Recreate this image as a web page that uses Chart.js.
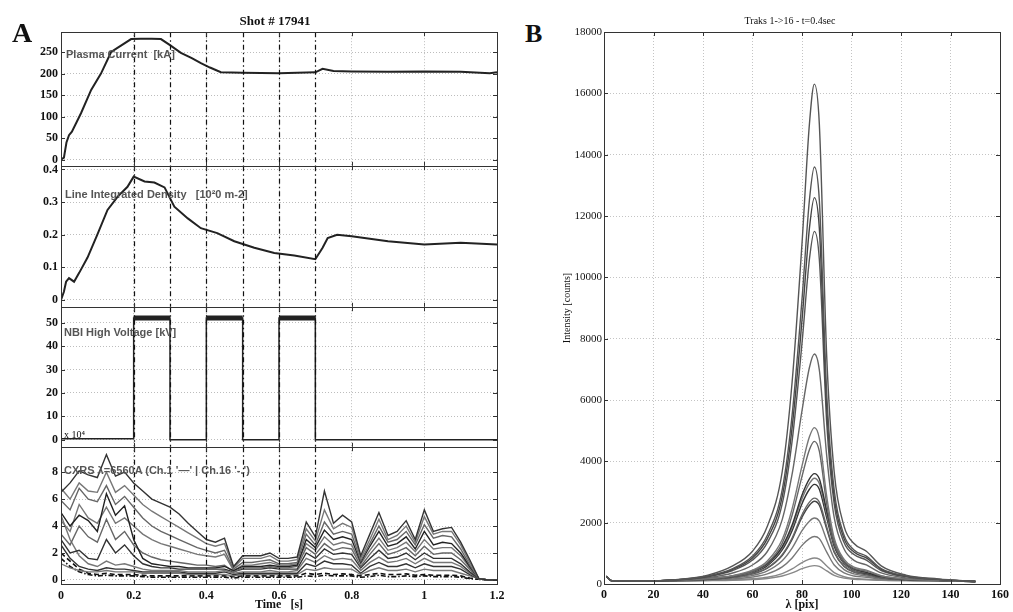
<!DOCTYPE html>
<html>
<head>
<meta charset="utf-8">
<script src="https://cdn.jsdelivr.net/npm/chart.js@4.4.0/dist/chart.umd.min.js"></script>
<style>
body { margin: 0; background: #fff; width: 1013px; height: 612px; overflow: hidden; position: relative; font-family: "Liberation Serif", serif; }
canvas { position: absolute; }
.txt { position: absolute; white-space: pre; line-height: 1; color: #111; }
.note { position: absolute; white-space: pre; line-height: 1; font: bold 11px "Liberation Sans", Arial, sans-serif; color: #555; }
</style>
</head>
<body>
<canvas id="c1" width="515" height="154" style="left:0;top:22px"></canvas>
<canvas id="c2" width="515" height="161" style="left:0;top:156px"></canvas>
<canvas id="c3" width="515" height="160" style="left:0;top:297px"></canvas>
<canvas id="c4" width="515" height="175" style="left:0;top:437px"></canvas>
<canvas id="cB" width="458" height="612" style="left:555px;top:0"></canvas>

<div class="txt" style="left:12px;top:19px;font-weight:bold;font-size:28px">A</div>
<div class="txt" style="left:525px;top:21px;font-weight:bold;font-size:26px">B</div>
<div class="txt" style="left:275px;top:14px;font-weight:bold;font-size:13px;transform:translateX(-50%)">Shot # 17941</div>
<div class="txt" style="left:790px;top:16px;font-size:10px;transform:translateX(-50%)">Traks 1-&gt;16 - t=0.4sec</div>
<div class="note" style="left:66px;top:48px">Plasma Current  [kA]</div>
<div class="note" style="left:65px;top:188px">Line Integrated Density   [10²0 m-2]</div>
<div class="note" style="left:64px;top:326px">NBI High Voltage [kV]</div>
<div class="note" style="left:64px;top:464px">CXRS λ=6560A (Ch.1 '—' | Ch.16 '-.')</div>
<div class="txt" style="left:64px;top:430px;font-size:10px">x 10⁴</div>

<script>
Chart.defaults.font.family = '"Liberation Serif", serif';
Chart.defaults.color = '#111';

// time axis shared by the four left panels
const timeTicks = [0, 0.2, 0.4, 0.6, 0.8, 1, 1.2];
const nbiMarks = [0.2, 0.3, 0.4, 0.5, 0.6, 0.7];

// Plasma current [kA]
const ipTime = [0, 0.008, 0.015, 0.022, 0.03, 0.055, 0.083, 0.11, 0.138, 0.165, 0.193, 0.22, 0.25, 0.275, 0.3, 0.33, 0.36, 0.385, 0.41, 0.44, 0.5, 0.6, 0.7, 0.72, 0.75, 0.8, 0.9, 1.0, 1.1, 1.18, 1.2];
const ipValues = [0, 5, 40, 57, 65, 108, 162, 200, 250, 265, 280, 281, 281, 280, 266, 248, 236, 224, 214, 203, 202, 201, 203, 211, 206, 205, 204, 205, 204, 201, 203];
const ipTicks = [0, 50, 100, 150, 200, 250];

// Line integrated density [1e20 m-2]
const neTime = [0, 0.008, 0.014, 0.022, 0.036, 0.05, 0.073, 0.1, 0.128, 0.156, 0.183, 0.2, 0.23, 0.257, 0.285, 0.312, 0.349, 0.385, 0.43, 0.477, 0.532, 0.587, 0.642, 0.7, 0.72, 0.734, 0.76, 0.8, 0.9, 1.0, 1.1, 1.2];
const neValues = [0, 0.025, 0.056, 0.067, 0.056, 0.083, 0.13, 0.2, 0.276, 0.317, 0.347, 0.378, 0.363, 0.36, 0.345, 0.286, 0.25, 0.22, 0.205, 0.18, 0.16, 0.144, 0.136, 0.125, 0.16, 0.19, 0.2, 0.195, 0.18, 0.17, 0.175, 0.17];
const neTicks = [0, 0.1, 0.2, 0.3, 0.4];

// NBI high voltage [kV]
const nbiTime = [0, 0.2, 0.2, 0.3, 0.3, 0.4, 0.4, 0.5, 0.5, 0.6, 0.6, 0.7, 0.7, 1.2];
const nbiValues = [0.4, 0.4, 52, 52, 0, 0, 52, 52, 0, 0, 52, 52, 0, 0];
const nbiOnStart = [0.2, 0.4, 0.6];
const nbiOnEnd = [0.3, 0.5, 0.7];
const nbiOnLevel = 52;
const nbiTicks = [0, 10, 20, 30, 40, 50];

// CXRS channels (x 1e4 counts)
const cxrsTime = [0, 0.025, 0.05, 0.075, 0.1, 0.125, 0.15, 0.175, 0.2, 0.225, 0.25, 0.275, 0.3, 0.325, 0.35, 0.375, 0.4, 0.425, 0.45, 0.475, 0.5, 0.525, 0.55, 0.575, 0.6, 0.625, 0.65, 0.675, 0.7, 0.725, 0.75, 0.775, 0.8, 0.825, 0.85, 0.875, 0.9, 0.925, 0.95, 0.975, 1, 1.025, 1.05, 1.075, 1.1, 1.125, 1.15, 1.175, 1.2];
const cxrs1 = [6.5, 7.2, 8.1, 7.8, 7.6, 9.3, 7.7, 8.0, 7.2, 6.6, 6.0, 5.7, 5.4, 4.9, 4.2, 3.6, 3.0, 2.8, 3.1, 1.0, 1.8, 1.8, 1.8, 2.0, 1.6, 1.6, 1.7, 4.3, 3.2, 6.6, 4.2, 4.8, 4.3, 1.8, 3.4, 5.0, 3.3, 3.6, 4.4, 3.0, 5.2, 3.6, 3.8, 3.9, 2.8, 1.5, 0.1, 0, 0];
const cxrs2 = [6.8, 6.0, 7.2, 6.6, 6.5, 8.0, 6.5, 7.0, 6.3, 5.6, 5.1, 4.7, 4.3, 3.9, 3.5, 3.1, 2.7, 2.5, 2.7, 0.9, 1.6, 1.6, 1.6, 1.8, 1.4, 1.4, 1.5, 3.8, 2.9, 5.2, 3.8, 4.2, 3.9, 1.6, 3.0, 4.5, 3.0, 3.3, 4.0, 2.8, 4.7, 3.4, 3.6, 3.6, 2.6, 1.3, 0.1, 0, 0];
const cxrs3 = [5.9, 5.2, 6.8, 6.0, 5.8, 7.0, 5.6, 6.2, 5.4, 4.6, 4.0, 3.6, 3.3, 3.0, 2.7, 2.4, 2.2, 2.0, 2.2, 0.8, 1.3, 1.3, 1.4, 1.5, 1.2, 1.2, 1.3, 3.4, 2.6, 4.3, 3.4, 3.6, 3.4, 1.4, 2.7, 4.0, 2.8, 3.0, 3.6, 2.6, 4.1, 3.1, 3.3, 3.2, 2.3, 1.1, 0.1, 0, 0];
const cxrs4 = [5.0, 4.0, 4.8, 4.4, 3.6, 6.4, 4.8, 5.5, 3.0, 1.6, 1.2, 1.1, 1.0, 1.0, 0.9, 0.9, 0.9, 0.9, 1.0, 0.7, 1.0, 1.0, 1.0, 1.1, 1.0, 1.0, 1.1, 3.0, 2.4, 3.7, 3.0, 3.2, 3.0, 1.3, 2.5, 3.6, 2.5, 2.7, 3.2, 2.3, 3.6, 2.6, 2.8, 2.7, 2.0, 1.0, 0.1, 0, 0];
const cxrs5 = [4.4, 3.6, 5.6, 4.6, 4.2, 5.4, 4.2, 4.6, 4.0, 3.4, 3.0, 2.7, 2.5, 2.3, 2.1, 1.9, 1.8, 1.7, 1.9, 0.7, 1.1, 1.1, 1.2, 1.3, 1.1, 1.1, 1.2, 2.7, 2.2, 3.2, 2.6, 2.8, 2.6, 1.2, 2.2, 3.1, 2.2, 2.4, 2.8, 2.1, 3.0, 2.3, 2.4, 2.4, 1.8, 0.9, 0.1, 0, 0];
const cxrs6 = [3.4, 2.6, 4.0, 3.2, 2.8, 4.5, 3.0, 3.6, 2.6, 2.0, 1.7, 1.5, 1.4, 1.3, 1.2, 1.1, 1.1, 1.0, 1.1, 0.6, 0.9, 0.9, 0.9, 1.0, 0.9, 0.9, 1.0, 2.4, 1.9, 2.7, 2.2, 2.4, 2.3, 1.0, 1.9, 2.7, 1.9, 2.1, 2.4, 1.8, 2.5, 1.9, 2.0, 2.0, 1.5, 0.8, 0.1, 0, 0];
const cxrs7 = [3.0, 2.0, 2.2, 1.6, 1.5, 3.0, 2.0, 2.6, 1.8, 1.2, 1.0, 0.9, 0.9, 0.8, 0.8, 0.8, 0.8, 0.8, 0.8, 0.6, 0.8, 0.8, 0.8, 0.9, 0.8, 0.8, 0.8, 2.0, 1.6, 2.3, 1.9, 2.0, 1.9, 0.9, 1.6, 2.2, 1.6, 1.7, 2.0, 1.5, 2.0, 1.6, 1.6, 1.6, 1.2, 0.6, 0.1, 0, 0];
const cxrs8 = [4.8, 3.0, 1.8, 1.2, 1.0, 1.4, 1.1, 1.2, 1.0, 0.8, 0.7, 0.7, 0.7, 0.7, 0.6, 0.6, 0.6, 0.6, 0.7, 0.5, 0.6, 0.6, 0.6, 0.7, 0.6, 0.6, 0.7, 1.6, 1.3, 1.8, 1.5, 1.6, 1.5, 0.7, 1.3, 1.7, 1.3, 1.4, 1.6, 1.2, 1.6, 1.3, 1.3, 1.3, 1.0, 0.5, 0.1, 0, 0];
const cxrs9 = [2.6, 1.6, 1.0, 0.8, 0.7, 0.9, 0.8, 0.8, 0.7, 0.6, 0.6, 0.6, 0.6, 0.6, 0.5, 0.5, 0.5, 0.5, 0.6, 0.4, 0.5, 0.5, 0.5, 0.5, 0.5, 0.5, 0.5, 1.2, 1.0, 1.4, 1.2, 1.2, 1.1, 0.5, 1.0, 1.3, 1.0, 1.0, 1.2, 0.9, 1.2, 1.0, 1.0, 1.0, 0.8, 0.4, 0.1, 0, 0];
const cxrs10 = [1.2, 0.9, 0.7, 0.6, 0.6, 0.7, 0.6, 0.6, 0.6, 0.5, 0.5, 0.5, 0.5, 0.5, 0.4, 0.4, 0.4, 0.4, 0.4, 0.3, 0.4, 0.4, 0.4, 0.4, 0.4, 0.4, 0.4, 0.8, 0.7, 0.9, 0.8, 0.8, 0.8, 0.4, 0.7, 0.9, 0.7, 0.7, 0.8, 0.6, 0.8, 0.7, 0.7, 0.7, 0.5, 0.3, 0.1, 0, 0];
const cxrsCh1 = [2.0, 1.4, 0.8, 0.5, 0.4, 0.5, 0.4, 0.4, 0.4, 0.35, 0.3, 0.3, 0.3, 0.3, 0.3, 0.3, 0.3, 0.3, 0.3, 0.25, 0.3, 0.3, 0.3, 0.3, 0.3, 0.3, 0.3, 0.5, 0.4, 0.5, 0.4, 0.45, 0.4, 0.3, 0.4, 0.5, 0.4, 0.4, 0.45, 0.35, 0.4, 0.35, 0.35, 0.35, 0.3, 0.15, 0.05, 0, 0];
const cxrsCh16 = [1.6, 1.0, 0.6, 0.4, 0.3, 0.35, 0.3, 0.3, 0.3, 0.25, 0.2, 0.2, 0.2, 0.2, 0.2, 0.2, 0.2, 0.2, 0.2, 0.15, 0.2, 0.2, 0.2, 0.2, 0.2, 0.2, 0.2, 0.3, 0.25, 0.35, 0.3, 0.3, 0.3, 0.2, 0.25, 0.35, 0.25, 0.25, 0.3, 0.25, 0.3, 0.25, 0.25, 0.25, 0.2, 0.1, 0.05, 0, 0];
const cxrsLines = [cxrs1, cxrs2, cxrs3, cxrs4, cxrs5, cxrs6, cxrs7, cxrs8, cxrs9, cxrs10];
const cxrsColors = ['#333', '#777', '#666', '#222', '#777', '#666', '#333', '#777', '#333', '#777'];
const cxrsTicks = [0, 2, 4, 6, 8];

// Spectra, panel B
const specX = [1, 3, 15, 30, 42, 52, 60, 66, 72, 76, 80, 83, 85, 87, 90, 93, 97, 101, 106, 112, 122, 135, 150];
const spec1 = [250, 110, 100, 150, 290, 590, 1070, 1880, 3660, 6580, 11100, 15000, 16300, 15000, 7390, 3660, 1880, 1320, 1070, 590, 290, 165, 80];
const spec2 = [250, 110, 100, 140, 260, 500, 910, 1590, 3070, 5500, 9280, 12520, 13600, 12520, 6180, 3070, 1590, 1110, 910, 500, 260, 150, 80];
const spec3 = [250, 110, 100, 140, 250, 480, 850, 1480, 2850, 5100, 8600, 11600, 12600, 11600, 5720, 2850, 1480, 1040, 850, 480, 250, 150, 80];
const spec4 = [250, 110, 100, 130, 240, 440, 780, 1350, 2610, 4660, 7850, 10590, 11500, 10590, 5230, 2610, 1350, 960, 780, 440, 240, 150, 80];
const spec5 = [250, 110, 100, 130, 210, 360, 620, 1060, 2100, 3580, 5650, 7060, 7500, 6980, 4170, 2170, 1140, 770, 620, 360, 200, 130, 80];
const spec6 = [250, 110, 100, 120, 175, 275, 450, 750, 1450, 2450, 3850, 4800, 5100, 4750, 2850, 1500, 800, 550, 450, 275, 165, 120, 80];
const spec7 = [250, 110, 100, 120, 170, 260, 420, 690, 1330, 2240, 3510, 4380, 4650, 4330, 2600, 1370, 740, 510, 420, 260, 160, 120, 80];
const spec8 = [250, 110, 100, 120, 170, 260, 420, 660, 1220, 1920, 2900, 3430, 3600, 3430, 2380, 1360, 730, 490, 380, 240, 150, 120, 80];
const spec9 = [250, 110, 100, 120, 170, 250, 400, 640, 1170, 1840, 2780, 3280, 3450, 3280, 2280, 1310, 700, 470, 370, 230, 150, 120, 80];
const spec10 = [250, 110, 100, 120, 160, 240, 380, 600, 1110, 1740, 2620, 3090, 3250, 3090, 2150, 1230, 670, 450, 350, 230, 150, 120, 80];
const spec11 = [250, 110, 100, 110, 150, 220, 340, 530, 960, 1500, 2260, 2670, 2800, 2670, 1860, 1070, 590, 400, 320, 210, 140, 110, 80];
const spec12 = [250, 110, 100, 110, 150, 220, 330, 520, 930, 1450, 2180, 2570, 2700, 2570, 1790, 1040, 570, 390, 310, 200, 140, 110, 80];
const spec13 = [250, 110, 100, 110, 140, 190, 280, 430, 760, 1170, 1740, 2050, 2150, 2050, 1430, 840, 470, 330, 260, 180, 130, 110, 80];
const spec14 = [250, 110, 100, 110, 130, 165, 230, 330, 560, 850, 1260, 1480, 1550, 1480, 1040, 620, 360, 260, 220, 160, 120, 110, 80];
const spec15 = [250, 110, 100, 100, 115, 135, 170, 220, 340, 490, 700, 810, 850, 810, 590, 370, 235, 180, 160, 130, 110, 100, 80];
const spec16 = [250, 110, 100, 100, 110, 120, 145, 180, 260, 360, 500, 575, 600, 575, 425, 280, 190, 155, 140, 120, 110, 100, 80];
const specCurves = [spec1, spec2, spec3, spec4, spec5, spec6, spec7, spec8, spec9, spec10, spec11, spec12, spec13, spec14, spec15, spec16];
const specColors = ['#555', '#555', '#444', '#555', '#666', '#777', '#666', '#333', '#777', '#333', '#666', '#444', '#777', '#777', '#888', '#888'];
const specXTicks = [0, 20, 40, 60, 80, 100, 120, 140, 160];
const specYTicks = [0, 2000, 4000, 6000, 8000, 10000, 12000, 14000, 16000, 18000];

function toPoints(xs, ys) {
    return xs.map((x, i) => ({ x: x, y: ys[i] }));
}

// box, inward ticks and the NBI timing lines
const framePlugin = {
    id: 'frame',
    afterDatasetsDraw(chart, args, opts) {
        const ctx = chart.ctx;
        const a = chart.chartArea;
        const xs = chart.scales.x;
        const ys = chart.scales.y;
        ctx.save();
        if (opts.marks) {
            ctx.strokeStyle = '#111';
            ctx.lineWidth = 1.2;
            ctx.setLineDash([5, 3, 1.5, 3]);
            opts.marks.forEach(m => {
                const px = Math.round(xs.getPixelForValue(m)) + 0.5;
                ctx.beginPath();
                ctx.moveTo(px, a.top);
                ctx.lineTo(px, a.bottom);
                ctx.stroke();
            });
        }
        ctx.setLineDash([]);
        ctx.strokeStyle = '#333';
        ctx.lineWidth = 1;
        ctx.strokeRect(Math.round(a.left) + 0.5, Math.round(a.top) + 0.5, Math.round(a.right - a.left), Math.round(a.bottom - a.top));
        const len = 4;
        ctx.beginPath();
        xs.ticks.forEach(t => {
            const px = Math.round(xs.getPixelForValue(t.value)) + 0.5;
            ctx.moveTo(px, a.top);
            ctx.lineTo(px, a.top + len);
            ctx.moveTo(px, a.bottom);
            ctx.lineTo(px, a.bottom - len);
        });
        ys.ticks.forEach(t => {
            const py = Math.round(ys.getPixelForValue(t.value)) + 0.5;
            ctx.moveTo(a.left, py);
            ctx.lineTo(a.left + len, py);
            ctx.moveTo(a.right, py);
            ctx.lineTo(a.right - len, py);
        });
        ctx.stroke();
        ctx.restore();
    }
};

function makePanel(id, datasets, yMin, yMax, yTicks, showTime) {
    return new Chart(document.getElementById(id), {
        type: 'line',
        data: { datasets: datasets },
        options: {
            responsive: false,
            animation: false,
            events: [],
            layout: { padding: { top: 10, right: 18, bottom: showTime ? 0 : 10, left: 0 } },
            scales: {
                x: {
                    type: 'linear',
                    min: 0,
                    max: 1.2,
                    afterBuildTicks: s => { s.ticks = timeTicks.map(v => ({ value: v })); },
                    afterFit: s => { s.height = showTime ? 28 : 0; },
                    grid: { color: '#bdbdbd', drawTicks: false },
                    border: { display: false, dash: [1, 2] },
                    ticks: { display: showTime, maxRotation: 0, padding: 5, font: { size: 12, weight: 'bold' }, callback: v => String(v) },
                    title: { display: showTime, text: 'Time   [s]', padding: 0, font: { size: 12, weight: 'bold' } }
                },
                y: {
                    min: yMin,
                    max: yMax,
                    afterBuildTicks: s => { s.ticks = yTicks.map(v => ({ value: v })); },
                    afterFit: s => { s.width = 61; },
                    grid: { color: '#bdbdbd', drawTicks: false },
                    border: { display: false, dash: [1, 2] },
                    ticks: { padding: 3, font: { size: 12, weight: 'bold' }, callback: v => String(v) }
                }
            },
            plugins: {
                legend: { display: false },
                tooltip: { enabled: false },
                frame: { marks: nbiMarks }
            }
        },
        plugins: [framePlugin]
    });
}

const thick = { borderColor: '#222', borderWidth: 2, pointRadius: 0, fill: false };

makePanel('c1', [Object.assign({ data: toPoints(ipTime, ipValues) }, thick)], -14, 296, ipTicks, false);
makePanel('c2', [Object.assign({ data: toPoints(neTime, neValues) }, thick)], -0.021, 0.41, neTicks, false);

const nbiBand = [];
nbiOnStart.forEach((t0, i) => {
    nbiBand.push({ x: t0, y: nbiOnLevel }, { x: nbiOnEnd[i], y: nbiOnLevel }, { x: nbiOnEnd[i], y: null });
});
makePanel('c3', [
    { data: toPoints(nbiTime, nbiValues), borderColor: '#222', borderWidth: 1.5, pointRadius: 0, fill: false },
    { data: nbiBand, borderColor: '#222', borderWidth: 5, pointRadius: 0, fill: false, spanGaps: false }
], -3, 56.6, nbiTicks, false);

const cxrsSets = cxrsLines.map((vals, i) => ({
    data: toPoints(cxrsTime, vals),
    borderColor: cxrsColors[i],
    borderWidth: 1.4,
    pointRadius: 0,
    fill: false
}));
cxrsSets.push({ data: toPoints(cxrsTime, cxrsCh1), borderColor: '#111', borderWidth: 1.6, borderDash: [5, 3], pointRadius: 0, fill: false });
cxrsSets.push({ data: toPoints(cxrsTime, cxrsCh16), borderColor: '#111', borderWidth: 1.6, borderDash: [5, 2, 1.5, 2], pointRadius: 0, fill: false });
makePanel('c4', cxrsSets, -0.3, 9.85, cxrsTicks, true);

new Chart(document.getElementById('cB'), {
    type: 'line',
    data: {
        datasets: specCurves.map((vals, i) => ({
            data: toPoints(specX, vals),
            borderColor: specColors[i],
            borderWidth: 1.4,
            pointRadius: 0,
            fill: false,
            cubicInterpolationMode: 'monotone'
        }))
    },
    options: {
        responsive: false,
        animation: false,
        events: [],
        layout: { padding: { top: 32, right: 10, bottom: 0, left: 0 } },
        scales: {
            x: {
                type: 'linear',
                min: 0,
                max: 160,
                afterBuildTicks: s => { s.ticks = specXTicks.map(v => ({ value: v })); },
                afterFit: s => { s.height = 28; },
                grid: { color: '#c4c4c4', drawTicks: false },
                border: { display: false, dash: [1, 2] },
                ticks: { maxRotation: 0, padding: 4, font: { size: 12, weight: 'bold' } },
                title: { display: true, text: 'λ [pix]', padding: 0, font: { size: 12, weight: 'bold' } }
            },
            y: {
                min: 0,
                max: 18000,
                afterBuildTicks: s => { s.ticks = specYTicks.map(v => ({ value: v })); },
                afterFit: s => { s.width = 49; },
                grid: { color: '#c4c4c4', drawTicks: false },
                border: { display: false, dash: [1, 2] },
                ticks: { padding: 2, font: { size: 11 }, callback: v => String(v) },
                title: { display: true, text: 'Intensity [counts]', padding: { top: 6, bottom: 0 }, font: { size: 10 } }
            }
        },
        plugins: {
            legend: { display: false },
            tooltip: { enabled: false },
            frame: {}
        }
    },
    plugins: [framePlugin]
});
</script>
</body>
</html>
